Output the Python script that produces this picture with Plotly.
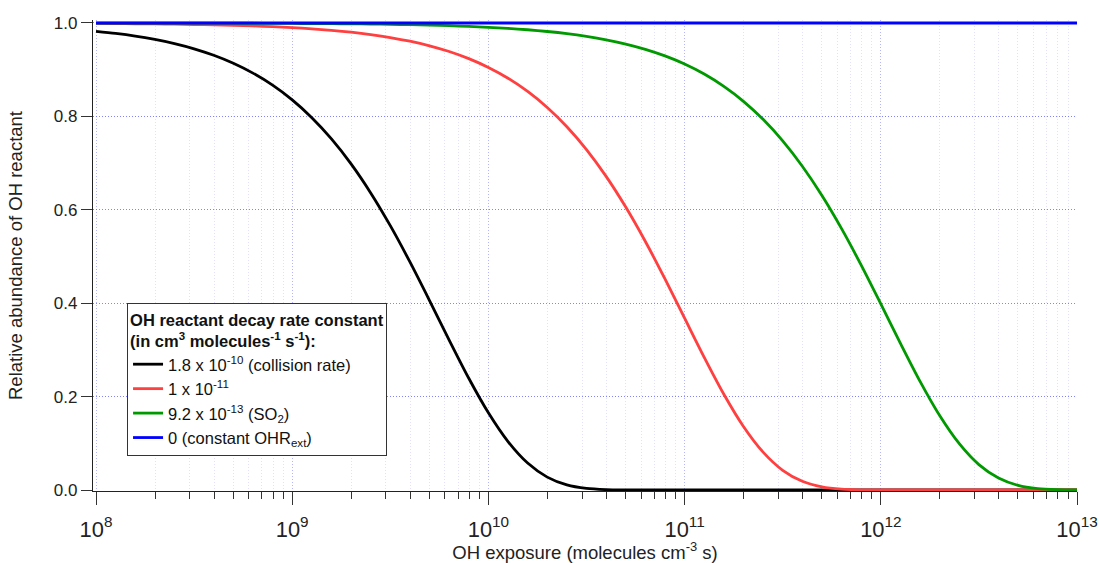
import plotly.graph_objects as go

# OH exposure (molecules cm^-3 s)
exposure = [
    1.0e8, 1.259e8, 1.585e8, 1.995e8, 2.512e8, 3.162e8, 3.981e8, 5.012e8, 6.310e8, 7.943e8,
    1.0e9, 1.259e9, 1.585e9, 1.995e9, 2.512e9, 3.162e9, 3.981e9, 5.012e9, 6.310e9, 7.943e9,
    1.0e10, 1.259e10, 1.585e10, 1.995e10, 2.512e10, 3.162e10, 3.981e10, 5.012e10, 6.310e10, 7.943e10,
    1.0e11, 1.259e11, 1.585e11, 1.995e11, 2.512e11, 3.162e11, 3.981e11, 5.012e11, 6.310e11, 7.943e11,
    1.0e12, 1.259e12, 1.585e12, 1.995e12, 2.512e12, 3.162e12, 3.981e12, 5.012e12, 6.310e12, 7.943e12,
    1.0e13,
]

# Relative abundance of OH reactant
abund_collision = [
    0.9822, 0.9776, 0.9719, 0.9647, 0.9558, 0.9447, 0.9308, 0.9137, 0.8926, 0.8668,
    0.8353, 0.7972, 0.7518, 0.6983, 0.6362, 0.5660, 0.4884, 0.4057, 0.3211, 0.2393,
    0.1653, 0.1037, 0.0577, 0.0276, 0.0109, 0.0034, 0.0008, 0.0001, 0.0, 0.0,
    0.0, 0.0, 0.0, 0.0, 0.0, 0.0, 0.0, 0.0, 0.0, 0.0,
    0.0, 0.0, 0.0, 0.0, 0.0, 0.0, 0.0, 0.0, 0.0, 0.0,
    0.0,
]
abund_1e11 = [
    0.9990, 0.9987, 0.9984, 0.9980, 0.9975, 0.9968, 0.9960, 0.9950, 0.9937, 0.9921,
    0.9901, 0.9875, 0.9843, 0.9803, 0.9752, 0.9689, 0.9610, 0.9511, 0.9389, 0.9236,
    0.9048, 0.8817, 0.8534, 0.8191, 0.7779, 0.7289, 0.6716, 0.6058, 0.5321, 0.4519,
    0.3679, 0.2840, 0.2050, 0.1360, 0.0811, 0.0423, 0.0187, 0.0067, 0.0018, 0.0004,
    0.0001, 0.0, 0.0, 0.0, 0.0, 0.0, 0.0, 0.0, 0.0, 0.0,
    0.0,
]
abund_so2 = [
    0.9999, 0.9999, 0.9999, 0.9998, 0.9998, 0.9997, 0.9996, 0.9995, 0.9994, 0.9993,
    0.9991, 0.9988, 0.9985, 0.9982, 0.9977, 0.9971, 0.9963, 0.9954, 0.9942, 0.9927,
    0.9908, 0.9885, 0.9855, 0.9818, 0.9772, 0.9713, 0.9640, 0.9549, 0.9436, 0.9295,
    0.9121, 0.8907, 0.8643, 0.8323, 0.7937, 0.7476, 0.6933, 0.6306, 0.5596, 0.4815,
    0.3985, 0.3141, 0.2327, 0.1595, 0.0992, 0.0545, 0.0257, 0.0099, 0.0030, 0.0007,
    0.0001,
]
abund_zero = [1.0] * len(exposure)

series_names = [
    "1.8 x 10<sup>-10</sup> (collision rate)",
    "1 x 10<sup>-11</sup>",
    "9.2 x 10<sup>-13</sup> (SO<sub>2</sub>)",
    "0 (constant OHR<sub>ext</sub>)",
]
series_values = [abund_collision, abund_1e11, abund_so2, abund_zero]
series_colors = ["#000000", "#FF4040", "#009A00", "#0000FF"]

FONT = "Arial, 'Liberation Sans', sans-serif"

fig = go.Figure()
for i, (name, vals, col) in enumerate(zip(series_names, series_values, series_colors)):
    fig.add_trace(go.Scatter(
        x=exposure, y=vals, name=name, mode="lines", legendgroup=f"g{i}",
        line=dict(color=col, width=2.8, shape="spline", smoothing=0.8),
    ))

fig.update_layout(
    width=1100, height=563,
    margin=dict(l=93, r=23, t=20, b=72),
    paper_bgcolor="white", plot_bgcolor="white",
    font=dict(family=FONT, size=16, color="#222222"),
    showlegend=True,
    legend=dict(
        x=0.0346, y=0.399, xanchor="left", yanchor="top",
        bordercolor="#333333", borderwidth=1, bgcolor="white",
        font=dict(family=FONT, size=16.5, color="#111111"),
        title=dict(
            text="<b>OH reactant decay rate constant<br>(in cm<sup>3</sup> molecules<sup>-1</sup> s<sup>-1</sup>):</b>",
            font=dict(family=FONT, size=16.5, color="#111111"),
        ),
        tracegroupgap=0, itemwidth=30,
    ),
)

fig.update_xaxes(
    type="log", range=[7.9847, 13], automargin=False,
    dtick=1, exponentformat="power", showexponent="all",
    ticks="outside", ticklen=13, tickwidth=1, tickcolor="#333333",
    ticklabelstandoff=6,
    showline=True, linecolor="#222222", linewidth=1.3,
    showgrid=True, gridcolor="rgba(90,90,255,0.45)", griddash="1px,2px", gridwidth=1,
    zeroline=False, mirror=False,
    minor=dict(dtick="D1", ticks="outside", ticklen=7, tickcolor="#333333",
               showgrid=True, gridcolor="rgba(120,120,255,0.22)", griddash="1px,2px", gridwidth=1),
    tickfont=dict(family=FONT, size=17.5, color="#222222"),
    title=dict(text="OH exposure (molecules cm<sup>-3</sup> s)",
               font=dict(family=FONT, size=18.5, color="#222222"), standoff=2),
)
fig.update_yaxes(
    range=[-0.0021, 1.0064], automargin=False,
    tickvals=[0.0, 0.2, 0.4, 0.6, 0.8, 1.0], tickformat=".1f",
    ticks="outside", ticklen=11, tickwidth=1, tickcolor="#333333",
    showline=True, linecolor="#222222", linewidth=1.3,
    showgrid=True, gridcolor="rgba(90,90,255,0.75)", griddash="1px,2px", gridwidth=1,
    zeroline=False,
    tickfont=dict(family=FONT, size=17, color="#222222"),
    title=dict(text="Relative abundance of OH reactant",
               font=dict(family=FONT, size=18.5, color="#222222"), standoff=26),
)

fig.write_html("out.html")
